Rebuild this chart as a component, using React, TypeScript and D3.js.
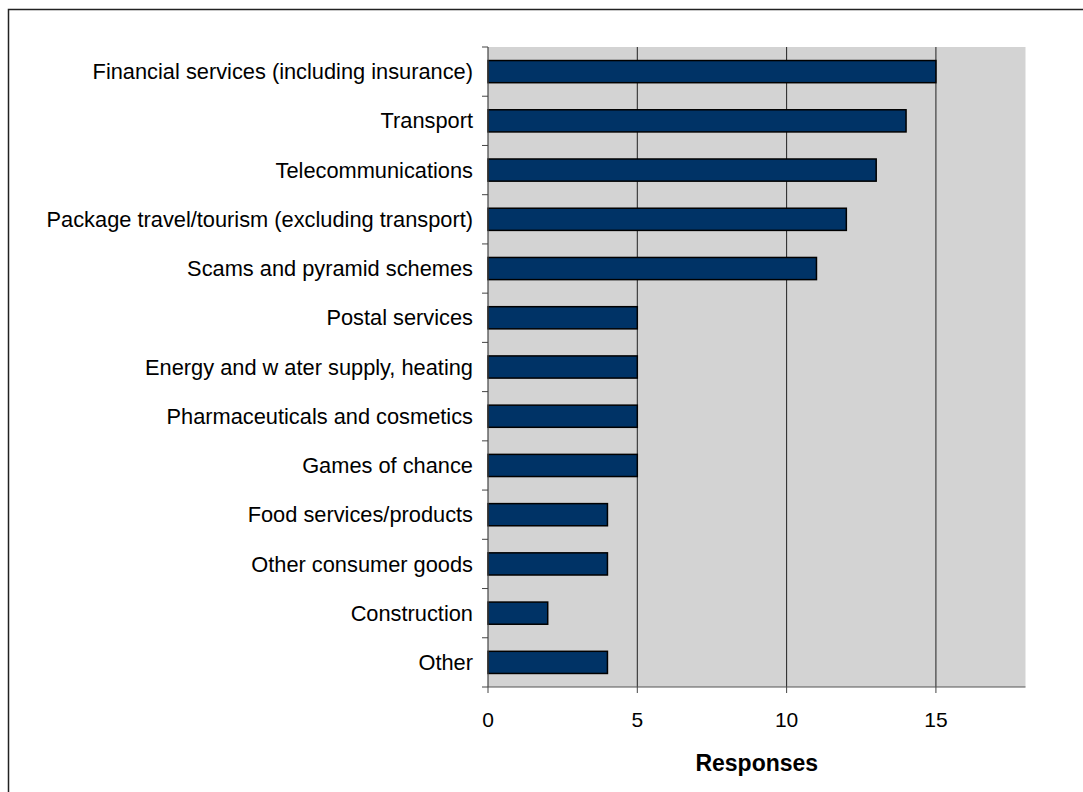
import React from "react";
import * as d3 from "d3";

const categories = [
  "Financial services (including insurance)",
  "Transport",
  "Telecommunications",
  "Package travel/tourism (excluding transport)",
  "Scams and pyramid schemes",
  "Postal services",
  "Energy and w ater supply, heating",
  "Pharmaceuticals and cosmetics",
  "Games of chance",
  "Food services/products",
  "Other consumer goods",
  "Construction",
  "Other ",
];
const values = [15, 14, 13, 12, 11, 5, 5, 5, 5, 4, 4, 2, 4];
const xTicks = [0, 5, 10, 15];
const xAxisTitle = "Responses";

export default function App() {
  const W = 1083, H = 792;
  const left = 488, right = 1025.5, top = 47, bottom = 687;
  const x = d3.scaleLinear().domain([0, 18]).range([left, right]);
  const y = d3.scaleBand<string>().domain(categories).range([top, bottom]).paddingInner(0.55).paddingOuter(0.275);
  const band = (bottom - top) / categories.length;
  const font = "'Liberation Sans', Arial, sans-serif";
  return (
    <div style={{ position: "absolute", left: 0, top: 0 }}>
      <svg width={W} height={H} style={{ display: "block" }}>
        <rect x={0} y={0} width={W} height={H} fill="#fff" />
        <rect x={8.5} y={9.5} width={1100} height={800} fill="none" stroke="#222" strokeWidth={1.5} />
        <rect x={left} y={top} width={right - left} height={bottom - top} fill="#d3d3d3" />
        {xTicks.filter((t) => t > 0).map((t) => (
          <line key={"g" + t} x1={x(t)} x2={x(t)} y1={top} y2={bottom} stroke="#222" strokeWidth={1} />
        ))}
        {categories.map((c, i) => (
          <rect
            key={c}
            x={x(0)}
            y={y(c)!}
            width={x(values[i]) - x(0)}
            height={y.bandwidth()}
            fill="#003366"
            stroke="#000"
            strokeWidth={1.5}
          />
        ))}
        {/* y axis */}
        <line x1={left} x2={left} y1={top} y2={bottom} stroke="#444" strokeWidth={1.2} />
        {d3.range(categories.length + 1).map((i) => (
          <line key={"yt" + i} x1={left - 6} x2={left} y1={top + i * band} y2={top + i * band} stroke="#444" strokeWidth={1} />
        ))}
        {/* x axis */}
        <line x1={left} x2={right} y1={bottom} y2={bottom} stroke="#555" strokeWidth={1.2} />
        {xTicks.map((t) => (
          <line key={"xt" + t} x1={x(t)} x2={x(t)} y1={bottom} y2={bottom + 6} stroke="#444" strokeWidth={1} />
        ))}
        {xTicks.map((t) => (
          <text key={"xl" + t} x={x(t)} y={727} textAnchor="middle" fontFamily={font} fontSize={21} fill="#000">
            {t}
          </text>
        ))}
        {categories.map((c) => (
          <text
            key={"l" + c}
            x={473}
            y={y(c)! + y.bandwidth() / 2}
            dy="0.35em"
            textAnchor="end"
            fontFamily={font}
            fontSize={21.8}
            fill="#000"
          >
            {c}
          </text>
        ))}
        <text x={(left + right) / 2} y={771} textAnchor="middle" fontFamily={font} fontSize={23} fontWeight="bold" fill="#000">
          {xAxisTitle}
        </text>
      </svg>
    </div>
  );
}
